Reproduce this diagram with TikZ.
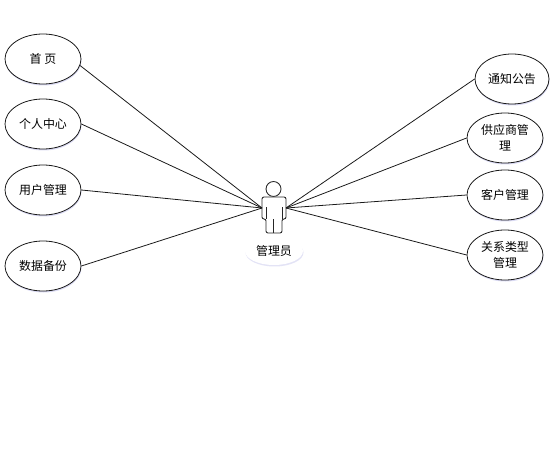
\documentclass[tikz,border=0pt]{standalone}
\usepackage{fontspec}
\usepackage{xcolor}
\setmainfont{Noto Sans CJK SC}
\usepackage{tikz}
\usetikzlibrary{shapes.geometric,shadows}

\begin{document}
\begin{tikzpicture}[
  font=\fontsize{6.8pt}{9pt}\selectfont,
  usecase/.style={draw=black!90, ellipse, align=center, inner sep=0pt, fill=white, line width=0.45pt,
    minimum width=1.52cm, minimum height=1.0cm,
    drop shadow={shadow xshift=0.01cm, shadow yshift=-0.03cm, fill=blue!50!gray, opacity=0.2}},
  link/.style={line width=0.45pt, draw=black!90},
  actorline/.style={line width=0.5pt, draw=black!85}
]
\useasboundingbox (0,0) rectangle (11,9.32);

\node[usecase] (home) at (0.86,8.14) {首 页};
\node[usecase] (center) at (0.86,6.84) {个人中心};
\node[usecase] (user) at (0.86,5.52) {用户管理};
\node[usecase] (backup) at (0.86,4.00) {数据备份};

\node[usecase, minimum width=1.48cm] (notice) at (10.24,7.74) {通知公告};
\node[usecase] (supplier) at (10.10,6.56) {供应商管\\理};
\node[usecase] (customer) at (10.10,5.42) {客户管理};
\node[usecase] (relation) at (10.10,4.22) {关系类型\\管理};

\node[draw=black!85, fill=white, circle, line width=0.5pt, minimum size=0.30cm, inner sep=0pt] (head) at (5.47,5.54) {};
\coordinate (lhand) at (5.24,5.16);
\coordinate (rhand) at (5.72,5.16);
\draw[actorline, fill=white, rounded corners=0.04cm]
  (5.24,4.94) -- (5.24,5.38) -- (5.72,5.38) -- (5.72,4.94) -- (5.64,4.94)
  -- (5.64,4.66) -- (5.32,4.66) -- (5.32,4.94) -- cycle;
\draw[actorline] (5.32,4.94) -- (5.32,5.18);
\draw[actorline] (5.64,4.94) -- (5.64,5.18);
\draw[actorline] (5.47,4.66) -- (5.47,4.94);

\node[ellipse, fill=white, minimum width=1.16cm, minimum height=0.56cm, inner sep=0pt,
  drop shadow={shadow xshift=0.01cm, shadow yshift=-0.03cm, fill=blue!50!gray, opacity=0.15}] (admin) at (5.48,4.30) {管理员};

\draw[link] (home.-10) -- (lhand);
\draw[link] (center.east) -- (lhand);
\draw[link] (user.east) -- (lhand);
\draw[link] (backup.east) -- (lhand);
\draw[link] (notice.west) -- (rhand);
\draw[link] (supplier.west) -- (rhand);
\draw[link] (customer.west) -- (rhand);
\draw[link] (relation.west) -- (rhand);
\end{tikzpicture}
\end{document}
